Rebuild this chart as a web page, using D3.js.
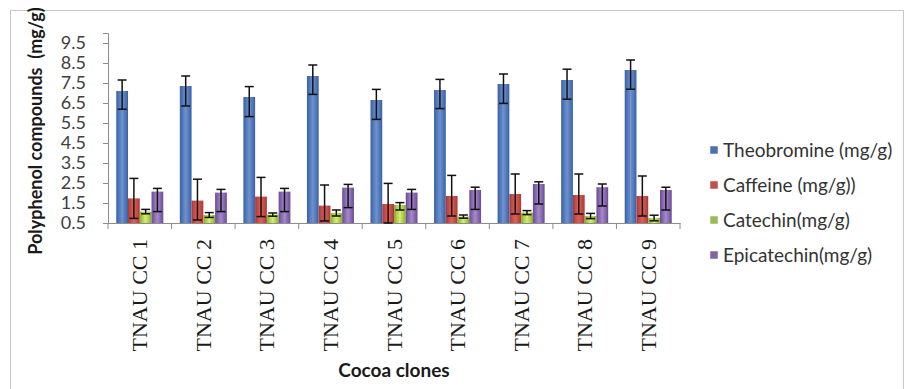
<!DOCTYPE html>
<html><head><meta charset="utf-8">
<script src="https://cdn.jsdelivr.net/npm/d3@7"></script>
<style>html,body{margin:0;padding:0;background:#fff}svg{display:block}</style>
</head><body>
<svg id="chart" width="906" height="389"></svg>
<script>
const categories = ["TNAU CC 1","TNAU CC 2","TNAU CC 3","TNAU CC 4","TNAU CC 5","TNAU CC 6","TNAU CC 7","TNAU CC 8","TNAU CC 9"];
const seriesNames = ["Theobromine (mg/g)","Caffeine (mg/g))","Catechin(mg/g)","Epicatechin(mg/g)"];
const theobromine = [7.10,7.35,6.80,7.85,6.65,7.15,7.45,7.65,8.15];
const theobrominePlus = [0.55,0.50,0.52,0.55,0.53,0.53,0.50,0.54,0.50];
const theobromineMinus = [0.91,1.00,0.98,0.92,0.97,0.93,0.97,0.96,0.96];
const caffeine = [1.73,1.62,1.82,1.37,1.45,1.85,1.95,1.90,1.85];
const caffeinePlus = [1.00,1.07,0.96,1.03,1.03,1.03,1.00,1.05,1.00];
const caffeineMinus = [1.00,0.97,1.00,0.77,0.95,1.00,1.00,0.95,1.00];
const catechin = [1.07,0.90,0.92,1.00,1.40,0.82,1.02,0.85,0.75];
const catechinPlus = [0.11,0.12,0.08,0.15,0.12,0.08,0.10,0.13,0.14];
const catechinMinus = [0.11,0.12,0.08,0.15,0.25,0.08,0.10,0.13,0.14];
const epicatechin = [2.07,2.02,2.07,2.27,2.02,2.15,2.45,2.29,2.15];
const epicatechinPlus = [0.16,0.16,0.16,0.16,0.16,0.14,0.11,0.16,0.14];
const epicatechinMinus = [1.00,0.95,1.00,1.00,0.84,0.97,1.00,0.94,1.00];
const yTicks = [0.5,1.5,2.5,3.5,4.5,5.5,6.5,7.5,8.5,9.5];

const seriesValues = [theobromine, caffeine, catechin, epicatechin];
const seriesPlus = [theobrominePlus, caffeinePlus, catechinPlus, epicatechinPlus];
const seriesMinus = [theobromineMinus, caffeineMinus, catechinMinus, epicatechinMinus];
const colors = [
  {dark:"#3b60a3", light:"#6c93d0", legend:"#4a72b5"},
  {dark:"#a83a36", light:"#e0605a", legend:"#c0504d"},
  {dark:"#8aab2e", light:"#d6ef6e", legend:"#9bbb59"},
  {dark:"#6a4c94", light:"#a688cc", legend:"#8064a2"}
];

const svg = d3.select("#chart");
svg.append("rect").attr("x",10.5).attr("y",10.5).attr("width",893).attr("height",390)
  .attr("fill","#fff").attr("stroke","#c8c8c8");

const defs = svg.append("defs");
colors.forEach((c,i)=>{
  const g = defs.append("linearGradient").attr("id","g"+i).attr("x1","0%").attr("x2","100%").attr("y1","0%").attr("y2","0%");
  g.append("stop").attr("offset","0%").attr("stop-color",c.dark);
  g.append("stop").attr("offset","50%").attr("stop-color",c.light);
  g.append("stop").attr("offset","100%").attr("stop-color",c.dark);
});

const x0 = d3.scaleBand().domain(categories).range([108,680]).paddingInner(0.26).paddingOuter(0.13);
const x1 = d3.scaleBand().domain(d3.range(4)).range([0,x0.bandwidth()]).padding(0);
const y = d3.scaleLinear().domain([0.5,10]).range([223,33]);

// y axis
const yAxis = svg.append("g").attr("transform","translate(108,0)")
  .call(d3.axisLeft(y).tickValues(yTicks).tickFormat(d3.format(".1f")).tickSize(5).tickPadding(17));
yAxis.select(".domain").attr("stroke","#8c8c8c");
yAxis.selectAll(".tick line").attr("stroke","#8c8c8c");
yAxis.selectAll("text").attr("font-family","Lato, 'Open Sans', sans-serif").attr("font-size",18).attr("fill","#404040");

// x axis
const xAxis = svg.append("g").attr("transform","translate(0,223)")
  .call(d3.axisBottom(x0).tickSize(0).tickFormat(""));
xAxis.select(".domain").attr("stroke","#8c8c8c");
const bounds = d3.range(categories.length+1).map(i=> i<categories.length ? x0(categories[i]) - x0.step()*x0.paddingInner()/2 : 680);
bounds[0] = 108;
svg.append("g").selectAll("line").data(bounds).join("line")
  .attr("x1",d=>d).attr("x2",d=>d).attr("y1",223).attr("y2",229).attr("stroke","#8c8c8c");

// x labels
svg.append("g").selectAll("text").data(categories).join("text")
  .attr("transform",d=>`translate(${x0(d)+x0.bandwidth()/2+7.5},239) rotate(-90)`)
  .attr("text-anchor","end")
  .attr("font-family","'Liberation Serif', 'Times New Roman', serif")
  .attr("font-size",22).attr("fill","#1a1a1a")
  .text(d=>d);

// bars
const groups = svg.append("g").selectAll("g").data(categories).join("g")
  .attr("transform",d=>`translate(${x0(d)},0)`);
groups.each(function(cat,ci){
  const g = d3.select(this);
  seriesValues.forEach((vals,si)=>{
    const v = vals[ci];
    g.append("rect").attr("x",x1(si)).attr("width",x1.bandwidth())
      .attr("y",y(v)).attr("height",y(0.5)-y(v))
      .attr("fill",`url(#g${si})`);
  });
  seriesValues.forEach((vals,si)=>{
    const v = vals[ci];
    const cx = x1(si)+x1.bandwidth()/2;
    const top = y(v+seriesPlus[si][ci]);
    const bot = y(Math.max(0.5, v-seriesMinus[si][ci]));
    g.append("line").attr("x1",cx).attr("x2",cx).attr("y1",top).attr("y2",bot).attr("stroke","#111").attr("stroke-width",1.5);
    g.append("line").attr("x1",cx-4.5).attr("x2",cx+4.5).attr("y1",top).attr("y2",top).attr("stroke","#111").attr("stroke-width",1.5);
    g.append("line").attr("x1",cx-4.5).attr("x2",cx+4.5).attr("y1",bot).attr("y2",bot).attr("stroke","#111").attr("stroke-width",1.5);
  });
});

// axis titles
svg.append("text").attr("transform","translate(42,131) rotate(-90)")
  .attr("text-anchor","middle").attr("font-family","Lato, 'Open Sans', sans-serif")
  .attr("font-weight","bold").attr("font-size",18).attr("fill","#1a1a1a")
  .attr("xml:space","preserve")
  .text("Polyphenol compounds  (mg/g)");
svg.append("text").attr("x",394).attr("y",377)
  .attr("text-anchor","middle").attr("font-family","Lato, 'Open Sans', sans-serif")
  .attr("font-weight","bold").attr("font-size",19).attr("fill","#1a1a1a")
  .text("Cocoa clones");

// legend
const legend = svg.append("g").selectAll("g").data(seriesNames).join("g")
  .attr("transform",(d,i)=>`translate(710,${150+i*35})`);
legend.append("rect").attr("x",0).attr("y",-4).attr("width",8).attr("height",8)
  .attr("fill",(d,i)=>colors[i].legend).attr("stroke","#fff").attr("stroke-width",0.5);
legend.append("text").attr("x",13).attr("y",6.5)
  .attr("font-family","Lato, 'Open Sans', sans-serif").attr("font-size",19).attr("fill","#333")
  .text(d=>d);
</script>
</body></html>
